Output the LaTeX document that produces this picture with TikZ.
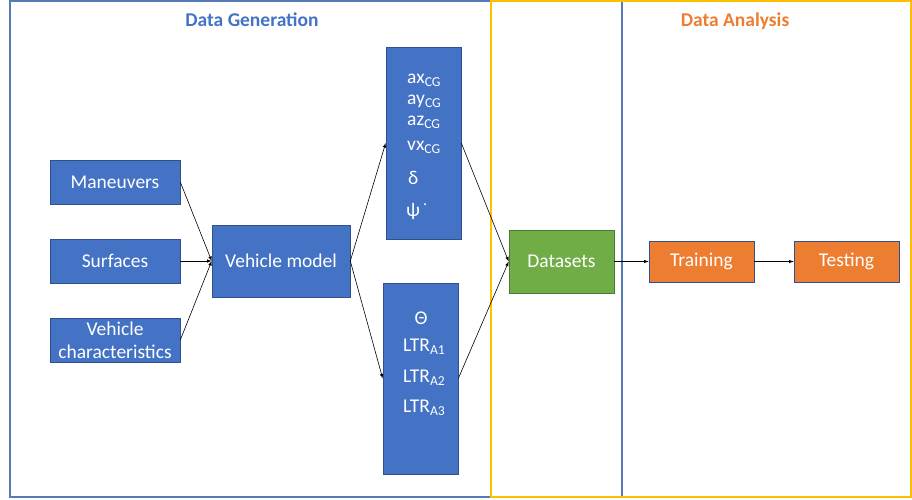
\documentclass[tikz,border=0pt]{standalone}
\usepackage{fontspec}
\setmainfont{Carlito}
\usepackage{tikz}
\usetikzlibrary{arrows, calc, positioning}
\definecolor{boxBlue}{HTML}{4472C4}
\definecolor{boxEdge}{HTML}{2F528F}
\definecolor{boxGreen}{HTML}{70AD47}
\definecolor{boxOrange}{HTML}{ED7D31}
\definecolor{frameBlue}{HTML}{5679B8}
\definecolor{frameYellow}{HTML}{FFC000}
\tikzset{
    stageBox/.style={rectangle, draw=boxEdge, line width=0.6pt, fill=boxBlue, text=white, font=\fontsize{19.5}{23}\selectfont, inner sep=0pt, align=center},
    greenBox/.style={stageBox, fill=boxGreen, draw=boxGreen!70!black},
    orangeBox/.style={stageBox, fill=boxOrange, draw=boxEdge},
    varText/.style={anchor=west, text=white, font=\fontsize{19.5}{22}\selectfont, inner sep=0pt},
    phaseTitle/.style={anchor=base, font=\fontsize{19.5}{22}\selectfont\bfseries},
    flowEdge/.style={->, >=latex, line width=0.6pt},
}
\newcommand{\drawFlow}[2]{
    \draw[flowEdge] (#1) -- (#2);
}

\begin{document}
\begin{tikzpicture}[x=1pt, y=-1pt]

        \useasboundingbox (0,0) rectangle (912,499);
        \draw[frameBlue, line width=1.5pt] (10,1) rectangle (622,497);
        \draw[frameYellow, line width=1.8pt] (491,1) rectangle (911,497);

        \node[phaseTitle, text=boxBlue] (genTitle) at (252,26) {Data Generation};
        \node[phaseTitle, text=boxOrange] (anaTitle) at (735,26) {Data Analysis};

        \node[stageBox, minimum width=130, minimum height=44] (maneuvers) at (115,182) {Maneuvers};
        \node[stageBox, minimum width=130, minimum height=44] (surfaces) at (115,261) {Surfaces};
        \node[stageBox, minimum width=130, minimum height=44] (vehChar) at (115,340) {Vehicle\\characteristics};
        \node[stageBox, minimum width=138, minimum height=72] (vehModel) at (281,261) {Vehicle model};

        \node[stageBox, minimum width=75, minimum height=192] (topOut) at (423.5,143) {};
        \node[varText] (ax) at (407,80) {ax\textsubscript{CG}};
        \node[varText] (ay) at (407,101) {ay\textsubscript{CG}};
        \node[varText] (az) at (407,122) {az\textsubscript{CG}};
        \node[varText] (vx) at (407,147) {vx\textsubscript{CG}};
        \node[varText] (delta) at (408,178) {δ};
        \node[varText] (psi) at (406,211) {ψ\,\textsuperscript{·}};

        \node[stageBox, minimum width=75, minimum height=191] (botOut) at (420.5,378.5) {};
        \node[text=white, font=\fontsize{19.5}{22}\selectfont, inner sep=0pt] (theta) at (421,318) {Θ};
        \node[varText] (ltrA) at (403,347) {LTR\textsubscript{A1}};
        \node[varText] (ltrB) at (403,378) {LTR\textsubscript{A2}};
        \node[varText] (ltrC) at (403,408) {LTR\textsubscript{A3}};

        \node[greenBox, minimum width=105, minimum height=63] (datasets) at (561.5,261.5) {Datasets};
        \node[orangeBox, minimum width=105, minimum height=41] (training) at (701.5,261.5) {Training};
        \node[orangeBox, minimum width=105, minimum height=41] (testing) at (846.5,261.5) {Testing};

        \drawFlow{maneuvers.east}{vehModel.west}
        \drawFlow{surfaces.east}{vehModel.west}
        \drawFlow{vehChar.east}{vehModel.west}
        \drawFlow{vehModel.east}{topOut.west}
        \drawFlow{vehModel.east}{botOut.west}
        \drawFlow{topOut.east}{datasets.west}
        \drawFlow{botOut.east}{datasets.west}
        \drawFlow{datasets}{training}
        \drawFlow{training}{testing}

    \end{tikzpicture}
\end{document}
